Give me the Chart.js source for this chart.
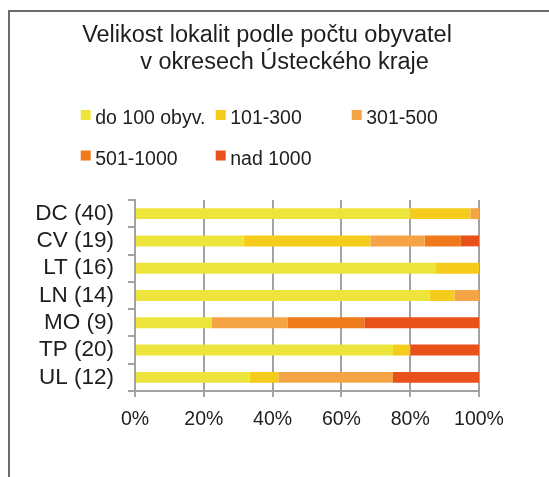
<!DOCTYPE html>
<html lang="cs">
<head>
<meta charset="utf-8">
<title>Velikost lokalit podle počtu obyvatel</title>
<script src="https://cdn.jsdelivr.net/npm/chart.js@4.4.1/dist/chart.umd.min.js"></script>
<style>
    html, body { margin: 0; padding: 0; background: #ffffff; }
    #graf { display: block; }
</style>
</head>
<body>
<canvas id="graf" width="549" height="477"></canvas>
<script>
// okresy Ústeckého kraje (počet lokalit v závorce)
let okresy = ['DC (40)', 'CV (19)', 'LT (16)', 'LN (14)', 'MO (9)', 'TP (20)', 'UL (12)'];

// počty lokalit podle velikosti
let do100 = [32, 6, 14, 12, 2, 15, 4];
let od101do300 = [7, 7, 2, 1, 0, 1, 1];
let od301do500 = [1, 3, 0, 1, 2, 0, 4];
let od501do1000 = [0, 2, 0, 0, 2, 0, 0];
let nad1000 = [0, 1, 0, 0, 3, 4, 3];

let kategorie = ['do 100 obyv.', '101-300', '301-500', '501-1000', 'nad 1000'];
let barvy = ['#EEE53C', '#F5CB1C', '#F4A444', '#EE7A1B', '#E9511B'];

let osaX = [0, 20, 40, 60, 80, 100];

let titulek = ['Velikost lokalit podle počtu obyvatel', 'v okresech Ústeckého kraje'];

let serie = [do100, od101do300, od301do500, od501do1000, nad1000];

// soucty za okres -> podily v %
let soucty = okresy.map((o, i) => serie.reduce((s, r) => s + r[i], 0));

let datasets = serie.map((r, k) => ({
    label: kategorie[k],
    data: r.map((v, i) => v / soucty[i] * 100),
    backgroundColor: barvy[k],
    borderWidth: 0,
    barPercentage: 0.4,
    categoryPercentage: 1
}));

const pismo = 'Liberation Sans, Arial, sans-serif';
const seda = '#a3a3a3';
const text = '#1e1e1e';

// ramecek, titulek a legenda
let kresba = {
    id: 'kresba',
    afterDraw(chart) {
        let ctx = chart.ctx;
        ctx.save();

        ctx.strokeStyle = '#6b6b6b';
        ctx.lineWidth = 2;
        ctx.beginPath();
        ctx.moveTo(9, 477);
        ctx.lineTo(9, 11);
        ctx.lineTo(549, 11);
        ctx.stroke();

        ctx.fillStyle = text;
        ctx.textAlign = 'center';
        ctx.textBaseline = 'alphabetic';
        ctx.font = '23.5px ' + pismo;
        ctx.fillText(titulek[0], 267, 42);
        ctx.fillText(titulek[1], 284.5, 69);

        let sloupce = [80.7, 215.7, 351.7];
        let radky = [110, 150.5];
        ctx.textAlign = 'left';
        ctx.font = '19.5px ' + pismo;
        chart.data.datasets.forEach((ds, k) => {
            let x = sloupce[k % 3];
            let y = radky[Math.floor(k / 3)];
            ctx.fillStyle = ds.backgroundColor;
            ctx.fillRect(x, y, 10, 10);
            ctx.fillStyle = text;
            ctx.fillText(ds.label, x + 14.5, y + 14);
        });

        ctx.restore();
    }
};

let config = {
    type: 'bar',
    data: {
        labels: okresy,
        datasets: datasets
    },
    options: {
        indexAxis: 'y',
        responsive: false,
        animation: false,
        devicePixelRatio: 1,
        layout: {
            padding: { left: 0, top: 200, right: 70, bottom: 36 }
        },
        plugins: {
            legend: { display: false },
            title: { display: false },
            tooltip: { enabled: false }
        },
        scales: {
            x: {
                stacked: true,
                min: 0,
                max: 100,
                afterFit: (scale) => { scale.height = 50; },
                afterBuildTicks: (scale) => {
                    scale.ticks = osaX.map(v => ({ value: v }));
                },
                ticks: {
                    callback: (v) => v + '%',
                    color: text,
                    padding: 11,
                    autoSkip: false,
                    font: { family: pismo, size: 19.5 }
                },
                grid: {
                    color: seda,
                    lineWidth: 2,
                    tickLength: 6
                },
                border: { display: true, color: seda, width: 2 }
            },
            y: {
                stacked: true,
                afterFit: (scale) => { scale.width = 135; },
                ticks: {
                    color: text,
                    padding: 14,
                    autoSkip: false,
                    font: { family: pismo, size: 22.5 }
                },
                grid: {
                    drawOnChartArea: false,
                    drawTicks: true,
                    tickLength: 7,
                    color: seda,
                    lineWidth: 2
                },
                border: { display: true, color: seda, width: 2 }
            }
        }
    },
    plugins: [kresba]
};

let graf = new Chart(document.getElementById('graf').getContext('2d'), config);
</script>
</body>
</html>
